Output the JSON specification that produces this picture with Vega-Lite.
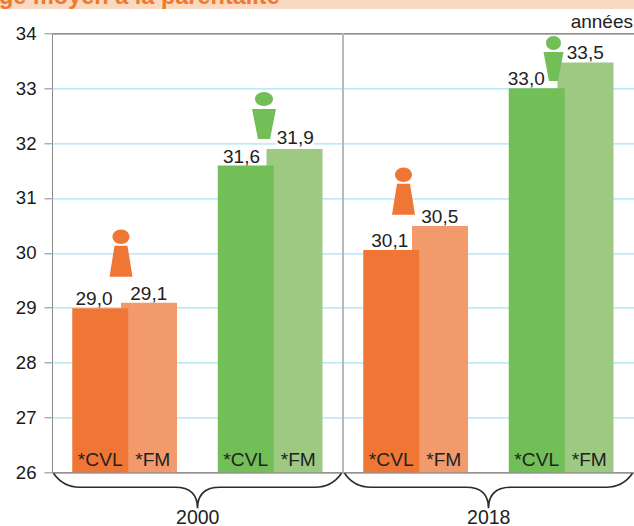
{
"$schema":"https://vega.github.io/schema/vega-lite/v6.json",
"width":582,"height":439,"autosize":"none",
"padding":{"left":52,"top":33.3,"right":0,"bottom":53.7},
"background":"white",
"config":{"view":{"stroke":"#8a8a8a","strokeWidth":1},"text":{"font":"Liberation Sans"}},
"datasets":{"rows":[
{"groupe":"F2000","serie":"CVL","valeur":28.99,"label":"29,0","annee":"2000"},
{"groupe":"F2000","serie":"FM","valeur":29.09,"label":"29,1","annee":"2000"},
{"groupe":"H2000","serie":"CVL","valeur":31.59,"label":"31,6","annee":"2000"},
{"groupe":"H2000","serie":"FM","valeur":31.89,"label":"31,9","annee":"2000"},
{"groupe":"F2018","serie":"CVL","valeur":30.05,"label":"30,1","annee":"2018"},
{"groupe":"F2018","serie":"FM","valeur":30.49,"label":"30,5","annee":"2018"},
{"groupe":"H2018","serie":"CVL","valeur":33.0,"label":"33,0","annee":"2018"},
{"groupe":"H2018","serie":"FM","valeur":33.47,"label":"33,5","annee":"2018"}
]},
"data":{"name":"rows"},
"encoding":{
"x":{"field":"groupe","type":"nominal","sort":null,"title":null,
"scale":{"domain":["F2000","H2000","F2018","H2018"],"paddingInner":0,"paddingOuter":0},
"axis":{"labels":false,"ticks":false,"domain":false,"grid":false}},
"y":{"field":"valeur","type":"quantitative","title":null,
"scale":{"domain":[26,34],"nice":false,"zero":false},
"axis":{"values":[26,27,28,29,30,31,32,33,34],"grid":true,"gridColor":{"condition":{"test":"datum.value==34||datum.value==26","value":"#8a8a8a"},"value":"#a6e3f4"},"gridWidth":1.2,"domain":false,"tickColor":"#8a8a8a","tickSize":8,"labelFont":"Liberation Sans","labelFontSize":18.6,"labelColor":"#1a1a1a","labelPadding":8}}
},
"layer":[
{"data":{"values":[{"valeur":34.443}]},"mark":{"type":"rect","color":"#f8d9c1","clip":false},
 "encoding":{"x":{"value":-60},"x2":{"value":590},"y2":{"datum":34.8}}},
{"data":{"values":[{"valeur":34.534,"titre":"Âge moyen à la parentalité"}]},"mark":{"type":"text","align":"left","baseline":"alphabetic","fontWeight":"bold","fontSize":23.5,"color":"#ee7a2e","font":"Liberation Sans"},
 "encoding":{"x":{"value":-70},"text":{"field":"titre"}}},
{"data":{"values":[{}]},"mark":{"type":"rule","color":"#b8b8b8","strokeWidth":2},
 "encoding":{"x":{"datum":"F2018","bandPosition":0},"y":{"value":0},"y2":{"value":439}}},
{"transform":[{"filter":"datum.serie=='FM'"}],"mark":{"type":"bar","width":56,"xOffset":24.25},
 "encoding":{"y2":{"datum":26},"color":{"field":"groupe","type":"nominal","legend":null,"scale":{"domain":["F2000","H2000","F2018","H2018"],"range":["#f39a6d","#9dc983","#f39a6d","#9dc983"]}}}},
{"transform":[{"filter":"datum.serie=='CVL'"}],"mark":{"type":"bar","width":56,"xOffset":-24.5},
 "encoding":{"y2":{"datum":26},"fill":{"field":"groupe","type":"nominal","legend":null,"scale":{"domain":["F2000","H2000","F2018","H2018"],"range":["#f07635","#72bf58","#f07635","#72bf58"]}}}},
{"transform":[{"filter":"datum.serie=='CVL'"}],"mark":{"type":"text","xOffset":-24.5,"yOffset":-6,"baseline":"alphabetic","fontSize":19.2,"color":"#222222"},
 "encoding":{"y":{"datum":26},"text":{"value":"*CVL"}}},
{"transform":[{"filter":"datum.serie=='FM'"}],"mark":{"type":"text","xOffset":28,"yOffset":-6,"baseline":"alphabetic","fontSize":19.2,"color":"#222222"},
 "encoding":{"y":{"datum":26},"text":{"value":"*FM"}}},
{"transform":[{"filter":"datum.label=='31,9'"}],"mark":{"type":"text","xOffset":25,"yOffset":-5,"baseline":"alphabetic","fontSize":19,"color":"white","stroke":"white","strokeWidth":5},
 "encoding":{"text":{"field":"label"}}},
{"transform":[{"filter":"datum.groupe=='F2000'&&datum.serie=='CVL'"}],"mark":{"type":"text","xOffset":-30.75,"yOffset":-3,"baseline":"alphabetic","fontSize":19,"color":"#222222"},"encoding":{"text":{"field":"label"}}},
{"transform":[{"filter":"datum.groupe=='H2000'&&datum.serie=='CVL'"}],"mark":{"type":"text","xOffset":-28.75,"yOffset":-3,"baseline":"alphabetic","fontSize":19,"color":"#222222"},"encoding":{"text":{"field":"label"}}},
{"transform":[{"filter":"datum.groupe=='F2018'&&datum.serie=='CVL'"}],"mark":{"type":"text","xOffset":-26,"yOffset":-3,"baseline":"alphabetic","fontSize":19,"color":"#222222"},"encoding":{"text":{"field":"label"}}},
{"transform":[{"filter":"datum.groupe=='H2018'&&datum.serie=='CVL'"}],"mark":{"type":"text","xOffset":-35,"yOffset":-3,"baseline":"alphabetic","fontSize":19,"color":"#222222"},"encoding":{"text":{"field":"label"}}},
{"transform":[{"filter":"datum.serie=='FM'&&datum.label!='31,9'"}],"mark":{"type":"text","xOffset":24,"yOffset":-3,"baseline":"alphabetic","fontSize":19,"color":"#222222"},"encoding":{"text":{"field":"label"}}},
{"transform":[{"filter":"datum.label=='31,9'"}],"mark":{"type":"text","xOffset":25,"yOffset":-5,"baseline":"alphabetic","fontSize":19,"color":"#222222"},"encoding":{"text":{"field":"label"}}},
{"data":{"values":[{"groupe":"F2000","niveau":29.99}]},"mark":{"type":"point","filled":true,"opacity":1,"size":2500,"color":"#f07635","xOffset":-3.75,"shape":"M-0.34,-0.66A0.34,0.29,0,1,1,0.34,-0.66A0.34,0.29,0,1,1,-0.34,-0.66ZM-0.26,-0.3L0.26,-0.3L0.46,0.94L-0.46,0.94Z"},
 "encoding":{"y":{"field":"niveau","type":"quantitative"}}},
{"data":{"values":[{"groupe":"F2018","niveau":31.12}]},"mark":{"type":"point","filled":true,"opacity":1,"size":2500,"color":"#f07635","xOffset":-12.25,"shape":"M-0.34,-0.66A0.34,0.29,0,1,1,0.34,-0.66A0.34,0.29,0,1,1,-0.34,-0.66ZM-0.26,-0.3L0.26,-0.3L0.46,0.94L-0.46,0.94Z"},
 "encoding":{"y":{"field":"niveau","type":"quantitative"}}},
{"data":{"values":[{"groupe":"H2000","niveau":32.5}]},"mark":{"type":"point","filled":true,"opacity":1,"size":2500,"color":"#72bf58","xOffset":-6.25,"shape":"M-0.36,-0.66A0.36,0.28,0,1,1,0.36,-0.66A0.36,0.28,0,1,1,-0.36,-0.66ZM-0.48,-0.26L0.48,-0.26L0.24,0.94L-0.24,0.94Z"},
 "encoding":{"y":{"field":"niveau","type":"quantitative"}}},
{"data":{"values":[{"groupe":"H2018","niveau":33.53}]},"mark":{"type":"point","filled":true,"opacity":1,"size":2500,"color":"#72bf58","xOffset":-7.75,"shape":"M-0.3,-0.64A0.3,0.28,0,1,1,0.3,-0.64A0.3,0.28,0,1,1,-0.3,-0.64ZM-0.4,-0.28L0.4,-0.28L0.18,0.88L-0.18,0.88Z"},
 "encoding":{"y":{"field":"niveau","type":"quantitative"}}},
{"data":{"values":[{"groupe":"F2000","valeur":26},{"groupe":"F2018","valeur":26}]},"mark":{"type":"point","filled":false,"opacity":1,"size":2500,"stroke":"#2b2b2b","strokeWidth":1.6,"fill":"transparent","xOffset":72.75,"shape":"M-5.76,0.04C-5.5,0.42,-5.1,0.6,-4.7,0.6L-0.9,0.6C-0.4,0.6,0,0.8,0,1.44C0,0.8,0.4,0.6,0.9,0.6L4.7,0.6C5.1,0.6,5.5,0.42,5.76,0.04"}},
{"data":{"values":[{"groupe":"F2000","annee":"2000","valeur":26},{"groupe":"F2018","annee":"2018","valeur":26}]},"mark":{"type":"text","xOffset":73,"yOffset":52,"baseline":"alphabetic","fontSize":19.5,"color":"#222222"},
 "encoding":{"text":{"field":"annee"}}},
{"data":{"values":[{"unite":"années","valeur":34}]},"mark":{"type":"text","align":"right","baseline":"alphabetic","fontSize":19,"color":"#222222","xOffset":-1,"yOffset":-5},
 "encoding":{"x":{"datum":"H2018","bandPosition":1},"text":{"field":"unite"}}}
]
}
